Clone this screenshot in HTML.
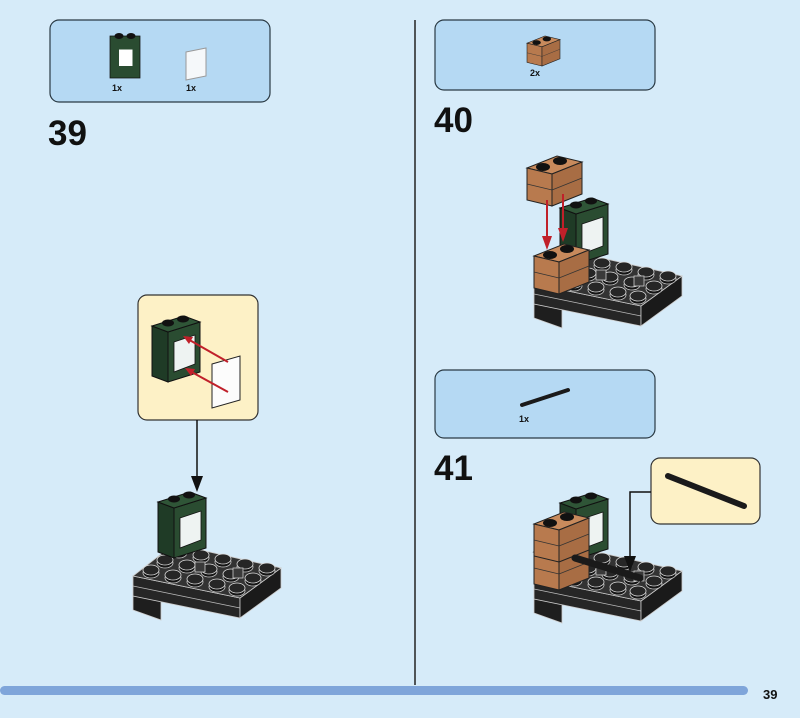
<!DOCTYPE html>
<html><head><meta charset="utf-8"><style>
html,body{margin:0;padding:0;background:#d6ebf9;}
svg{display:block;}
text{font-family:"Liberation Sans",sans-serif;font-weight:bold;fill:#111;}
</style></head><body>
<svg width="800" height="718" viewBox="0 0 800 718" xmlns="http://www.w3.org/2000/svg">
<defs>
<g id="stud"><ellipse cx="0" cy="2" rx="8" ry="5" fill="#151515" stroke="#ccc" stroke-width="0.8"/><ellipse cx="0" cy="-1" rx="8" ry="5" fill="#262626" stroke="#ddd" stroke-width="0.8"/></g>
<g id="base">
 <polygon points="0,0 0,34 28,44 28,26" fill="#1e1e1e" stroke="#ccc" stroke-width="0.8"/>
 <polygon points="0,0 107,22 107,42 0,20" fill="#262626" stroke="#ccc" stroke-width="0.8"/>
 <line x1="0" y1="10" x2="107" y2="32" stroke="#bbb" stroke-width="0.7"/>
 <polygon points="107,22 148,-8 148,12 107,42" fill="#1a1a1a" stroke="#ccc" stroke-width="0.8"/>
 <polygon points="0,0 41,-32 148,-8 107,22" fill="#333" stroke="#ccc" stroke-width="0.8"/>
 <use href="#stud" x="18" y="-5"/><use href="#stud" x="40" y="0"/><use href="#stud" x="62" y="4"/><use href="#stud" x="84" y="9"/><use href="#stud" x="104" y="13"/>
 <use href="#stud" x="32" y="-15"/><use href="#stud" x="54" y="-10"/><use href="#stud" x="76" y="-6"/><use href="#stud" x="98" y="-1"/><use href="#stud" x="120" y="3"/>
 <use href="#stud" x="46" y="-25"/><use href="#stud" x="68" y="-20"/><use href="#stud" x="90" y="-16"/><use href="#stud" x="112" y="-11"/><use href="#stud" x="134" y="-7"/>
 <rect x="62" y="-14" width="10" height="10" fill="#3a3a3a" stroke="#ccc" stroke-width="0.8"/>
 <rect x="100" y="-8" width="10" height="10" fill="#3a3a3a" stroke="#ccc" stroke-width="0.8"/>
</g>
<g id="win">
 <polygon points="0,6 16,12 16,62 0,56" fill="#1f3b26" stroke="#111" stroke-width="1"/>
 <polygon points="16,12 48,2 48,52 16,62" fill="#2a4c31" stroke="#111" stroke-width="1"/>
 <polygon points="0,6 32,-4 48,2 16,12" fill="#2f5537" stroke="#111" stroke-width="1"/>
 <polygon points="22,22 43,15 43,44 22,52" fill="#eef3f2" stroke="#111" stroke-width="0.8"/>
 <ellipse cx="16" cy="3" rx="6" ry="3.5" fill="#111"/><ellipse cx="31" cy="-1" rx="6" ry="3.5" fill="#111"/>
</g>
<g id="brick">
 <polygon points="0,12 30,0 55,6 25,18" fill="#c88a5c" stroke="#222" stroke-width="1"/>
 <polygon points="0,12 25,18 25,50 0,44" fill="#b87a4e" stroke="#222" stroke-width="1"/>
 <polygon points="25,18 55,6 55,38 25,50" fill="#a86d44" stroke="#222" stroke-width="1"/>
 <line x1="0" y1="28" x2="25" y2="34" stroke="#333" stroke-width="0.7"/><line x1="25" y1="34" x2="55" y2="22" stroke="#333" stroke-width="0.7"/>
 <ellipse cx="16" cy="11" rx="7" ry="4" fill="#111"/><ellipse cx="33" cy="5" rx="7" ry="4" fill="#111"/>
</g>
</defs>
<rect width="800" height="718" fill="#d6ebf9"/>
<line x1="415" y1="20" x2="415" y2="685" stroke="#222" stroke-width="1.5"/>
<rect x="0" y="686" width="748" height="9" rx="4.5" fill="#7fa5da"/>
<text x="763" y="699" font-size="13">39</text>

<!-- Step 39 -->
<rect x="50" y="20" width="220" height="82" rx="9" fill="#b5d9f3" stroke="#2a3a44" stroke-width="1.2"/>
<g transform="translate(110,36) scale(0.75)"><polygon points="0,0 40,0 40,56 0,56" fill="#2a4c31" stroke="#111"/><rect x="12" y="18" width="18" height="22" fill="#fff"/><ellipse cx="12" cy="0" rx="6" ry="4" fill="#111"/><ellipse cx="28" cy="0" rx="6" ry="4" fill="#111"/></g>
<polygon points="186,52 206,48 206,76 186,80" fill="#f5f8fa" stroke="#999"/>
<text x="112" y="91" font-size="9">1x</text><text x="186" y="91" font-size="9">1x</text>
<text x="48" y="145" font-size="35">39</text>
<rect x="138" y="295" width="120" height="125" rx="9" fill="#fdf1c6" stroke="#333" stroke-width="1.2"/>
<use href="#win" x="152" y="320"/>
<polygon points="212,364 240,356 240,400 212,408" fill="#fcfcfc" stroke="#222"/>
<line x1="228" y1="362" x2="186" y2="338" stroke="#c0202a" stroke-width="2"/><polygon points="183,336 193,337 189,344" fill="#c0202a"/>
<line x1="228" y1="392" x2="188" y2="370" stroke="#c0202a" stroke-width="2"/><polygon points="185,368 195,369 191,376" fill="#c0202a"/>
<line x1="197" y1="420" x2="197" y2="478" stroke="#111" stroke-width="1.5"/><polygon points="191,476 203,476 197,492" fill="#111"/>
<use href="#base" x="133" y="576"/>
<use href="#win" x="158" y="496"/>

<!-- Step 40 -->
<rect x="435" y="20" width="220" height="70" rx="9" fill="#b5d9f3" stroke="#2a3a44" stroke-width="1.2"/>
<g transform="translate(527,36) scale(0.6)"><use href="#brick"/></g>
<text x="530" y="76" font-size="9">2x</text>
<text x="434" y="132" font-size="35">40</text>
<use href="#base" x="534" y="284"/>
<use href="#win" x="560" y="202"/>
<use href="#brick" x="534" y="244"/>
<use href="#brick" x="527" y="156"/>
<line x1="547" y1="200" x2="547" y2="240" stroke="#c0202a" stroke-width="2"/><polygon points="542,236 552,236 547,250" fill="#c0202a"/>
<line x1="563" y1="194" x2="563" y2="232" stroke="#c0202a" stroke-width="2"/><polygon points="558,228 568,228 563,242" fill="#c0202a"/>

<!-- Step 41 -->
<rect x="435" y="370" width="220" height="68" rx="9" fill="#b5d9f3" stroke="#2a3a44" stroke-width="1.2"/>
<line x1="522" y1="405" x2="568" y2="390" stroke="#1a1a1a" stroke-width="4" stroke-linecap="round"/>
<text x="519" y="422" font-size="9">1x</text>
<text x="434" y="480" font-size="35">41</text>
<use href="#base" x="534" y="579"/>
<use href="#win" x="560" y="497"/>
<use href="#brick" x="534" y="540"/>
<use href="#brick" x="534" y="512"/>
<line x1="575" y1="558" x2="640" y2="578" stroke="#1a1a1a" stroke-width="7" stroke-linecap="round"/>
<rect x="651" y="458" width="109" height="66" rx="9" fill="#fdf1c6" stroke="#333" stroke-width="1.2"/>
<line x1="668" y1="476" x2="744" y2="506" stroke="#1a1a1a" stroke-width="6" stroke-linecap="round"/>
<polyline points="651,492 630,492 630,558" fill="none" stroke="#111" stroke-width="1.5"/><polygon points="624,556 636,556 630,572" fill="#111"/>
</svg>
</body></html>
